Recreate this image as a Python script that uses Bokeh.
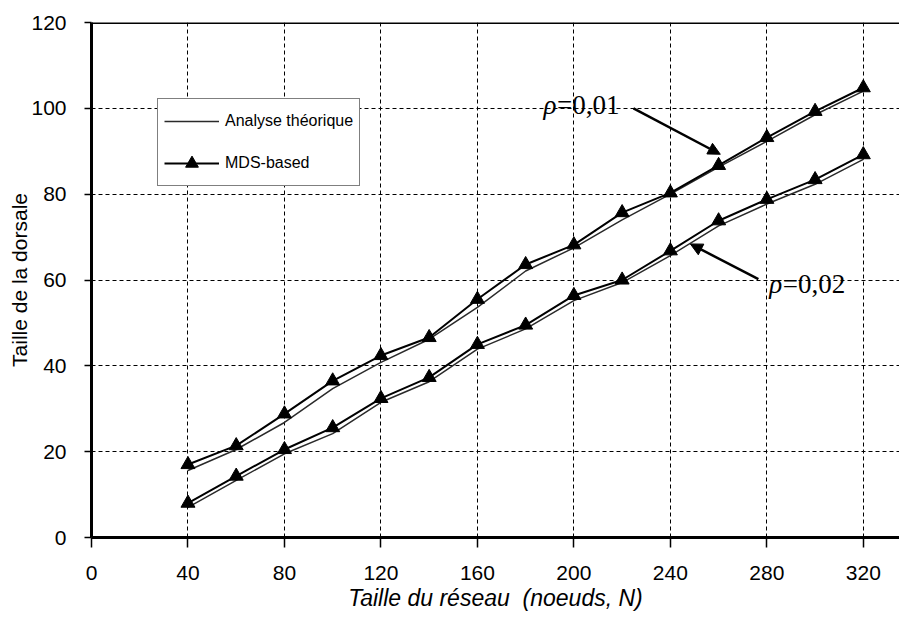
from bokeh.plotting import figure
from bokeh.models import Range1d, FixedTicker, Legend, LegendItem, Label, Arrow, NormalHead, Span
from bokeh.embed import file_html
from bokeh.resources import INLINE

# ---- data ----
N = [40, 60, 80, 100, 120, 140, 160, 180, 200, 220, 240, 260, 280, 300, 320]
theo_rho001 = [15.6, 20.5, 26.8, 34.7, 40.8, 46.2, 53.6, 62.1, 67.5, 74.0, 80.0, 86.3, 92.3, 98.5, 104.0]
mds_rho001 = [17.0, 21.4, 28.8, 36.5, 42.4, 46.6, 55.5, 63.6, 68.2, 75.7, 80.3, 86.7, 93.2, 99.3, 104.8]
theo_rho002 = [7.0, 13.3, 19.5, 24.2, 31.5, 36.3, 43.9, 48.6, 55.2, 59.4, 65.7, 72.6, 77.7, 82.3, 88.1]
mds_rho002 = [8.0, 14.3, 20.5, 25.6, 32.4, 37.3, 45.0, 49.5, 56.4, 60.0, 66.8, 73.8, 78.8, 83.4, 89.2]
x_ticks = [0, 40, 80, 120, 160, 200, 240, 280, 320]
y_ticks = [0, 20, 40, 60, 80, 100, 120]
legend_labels = ["Analyse théorique", "MDS-based"]
x_label = "Taille du réseau\u00a0 (noeuds, N)"
y_label = "Taille de la dorsale"

FONT = "Liberation Sans"
SERIF = "Liberation Serif"

p = figure(width=899, height=619, output_backend="svg", toolbar_location=None,
           x_range=Range1d(0, 335), y_range=Range1d(0, 120),
           min_border_left=91, min_border_right=0, min_border_top=22, min_border_bottom=82)
p.outline_line_color = None
p.background_fill_color = "white"
p.border_fill_color = "white"

# grid
for g in (p.xgrid, p.ygrid):
    g.grid_line_color = "black"
    g.grid_line_dash = "4 3"
    g.grid_line_width = 1
p.xgrid.ticker = FixedTicker(ticks=x_ticks)
p.ygrid.ticker = FixedTicker(ticks=y_ticks)

# axes
p.xaxis.ticker = FixedTicker(ticks=x_ticks)
p.yaxis.ticker = FixedTicker(ticks=y_ticks)
for ax in (p.xaxis, p.yaxis):
    ax.axis_line_color = "black"
    ax.axis_line_width = 3
    ax.major_tick_line_color = "black"
    ax.major_tick_line_width = 1.5
    ax.major_tick_in = 0
    ax.minor_tick_line_color = None
    ax.major_label_text_font = FONT
    ax.major_label_text_font_size = "21px"
    ax.major_label_text_color = "black"
    ax.axis_label_text_font = FONT
    ax.axis_label_text_color = "black"
p.xaxis.major_tick_out = 10
p.yaxis.major_tick_out = 7
p.xaxis.major_label_standoff = 18
p.yaxis.major_label_standoff = 18
p.xaxis.axis_label = x_label
p.yaxis.axis_label = y_label
p.xaxis.axis_label_text_font_style = "italic"
p.yaxis.axis_label_text_font_style = "normal"
p.xaxis.axis_label_text_font_size = "23px"
p.yaxis.axis_label_text_font_size = "21px"
p.xaxis.axis_label_standoff = 2
p.yaxis.axis_label_standoff = -3

p.add_layout(Span(location=120, dimension="width", line_color="black", line_width=3))

# series
r_theo1 = p.line(N, theo_rho001, line_color="#2a2a2a", line_width=1.5)
p.line(N, theo_rho002, line_color="#2a2a2a", line_width=1.5)
r_mds1_l = p.line(N, mds_rho001, line_color="black", line_width=2)
r_mds1_m = p.scatter(N, mds_rho001, marker="triangle", size=14, fill_color="black", line_color="black")
p.line(N, mds_rho002, line_color="black", line_width=2)
p.scatter(N, mds_rho002, marker="triangle", size=14, fill_color="black", line_color="black")

legend = Legend(items=[LegendItem(label=legend_labels[0], renderers=[r_theo1]),
                       LegendItem(label=legend_labels[1], renderers=[r_mds1_l, r_mds1_m])],
                location=(66, 351))
legend.border_line_color = "black"
legend.border_line_width = 1
legend.background_fill_color = "white"
legend.background_fill_alpha = 1
legend.label_text_font = FONT
legend.label_text_font_size = "16px"
legend.label_text_color = "black"
legend.glyph_width = 55
legend.glyph_height = 32
legend.label_height = 32
legend.spacing = 10
legend.padding = 6
legend.margin = 0
legend.label_standoff = 6
p.add_layout(legend, "center")

# annotations
p.add_layout(Label(x=187.4, y=100.8, text="ρ", text_font=SERIF, text_font_style="italic",
                   text_font_size="27px", text_baseline="middle", text_color="black"))
p.add_layout(Label(x=193.0, y=100.8, text="=0,01", text_font=SERIF,
                   text_font_size="27px", text_baseline="middle", text_color="black"))
p.add_layout(Label(x=281.0, y=59.0, text="ρ", text_font=SERIF, text_font_style="italic",
                   text_font_size="27px", text_baseline="middle", text_color="black"))
p.add_layout(Label(x=286.6, y=59.0, text="=0,02", text_font=SERIF,
                   text_font_size="27px", text_baseline="middle", text_color="black"))
p.add_layout(Arrow(x_start=224.7, y_start=100.0, x_end=260.7, y_end=89.3, line_width=2.5,
                   line_color="black",
                   end=NormalHead(size=12, fill_color="black", line_color="black")))
p.add_layout(Arrow(x_start=276.5, y_start=60.2, x_end=248.3, y_end=68.4, line_width=2.5,
                   line_color="black",
                   end=NormalHead(size=12, fill_color="black", line_color="black")))

open("out.html", "w").write(file_html(p, INLINE))
